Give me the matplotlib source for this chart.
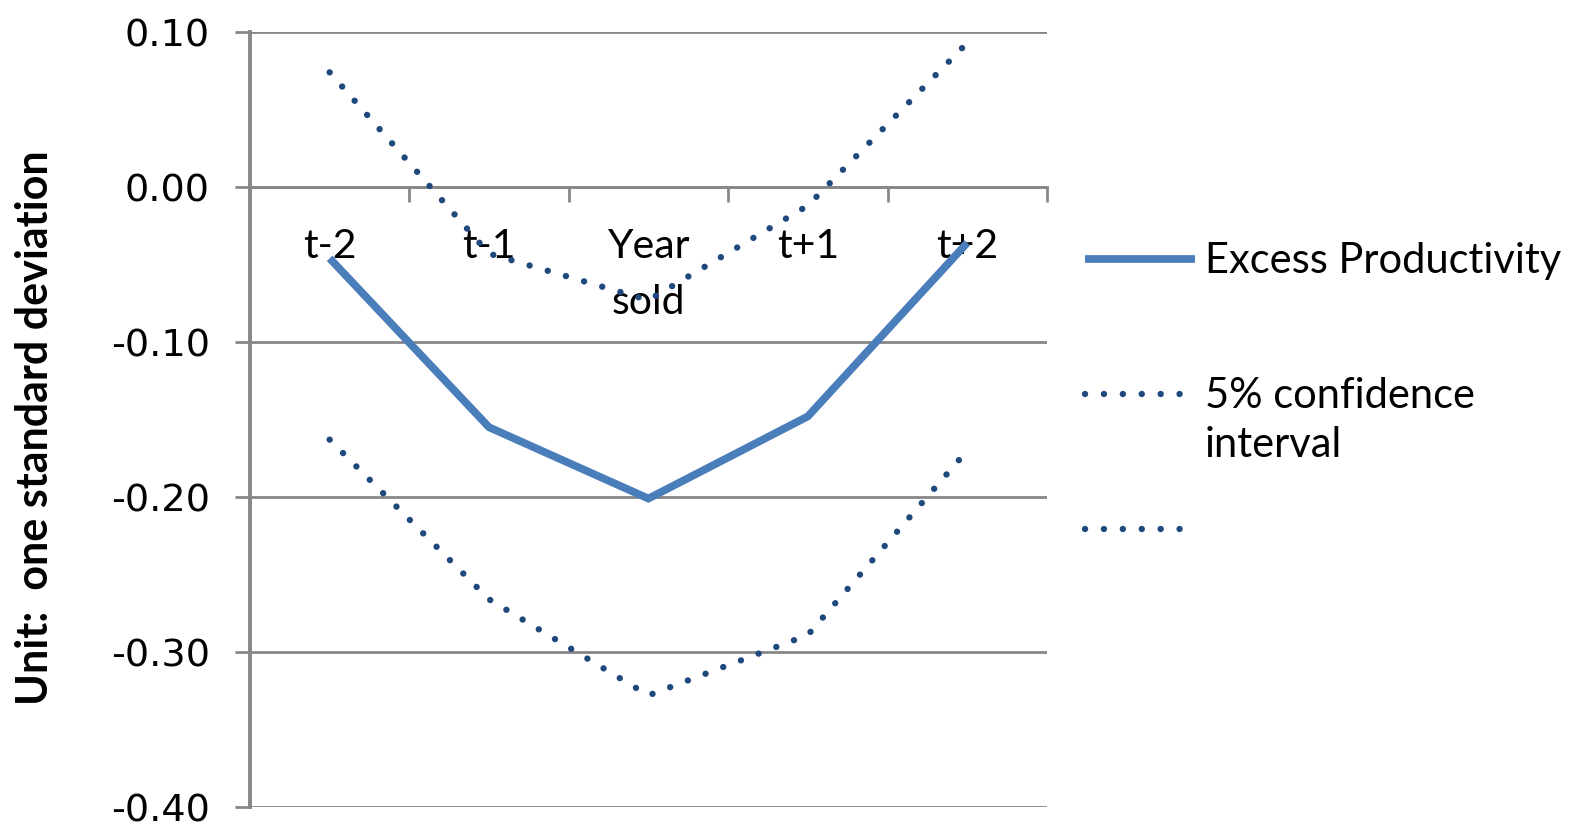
import matplotlib
matplotlib.use("Agg")
import matplotlib.pyplot as plt
from matplotlib.ticker import FixedLocator, NullFormatter, FixedFormatter

periods = ["t-2", "t-1", "Year\nsold", "t+1", "t+2"]
excess_productivity = [-0.046, -0.155, -0.201, -0.148, -0.036]
ci_upper = [0.074, -0.043, -0.073, -0.012, 0.093]
ci_lower = [-0.163, -0.266, -0.328, -0.289, -0.170]
y_ticks = [0.10, 0.00, -0.10, -0.20, -0.30, -0.40]
legend_labels = ["Excess Productivity\n ", "5% confidence\ninterval", " \n "]

text_font = ["Lato", "DejaVu Sans"]
grid_gray = "#878787"
line_blue = "#4a7ebb"
dot_blue = "#1f497d"

fig = plt.figure(figsize=(15.75, 8.25), dpi=100)
ax = fig.add_axes([0.1587, 0.0218, 0.506, 0.9394])

x = list(range(len(periods)))
h1, = ax.plot(x, excess_productivity, color=line_blue, lw=5.6,
              solid_joinstyle="miter", solid_capstyle="butt", zorder=3)
dot_style = dict(color=dot_blue, lw=4.6, dash_capstyle="round",
                 linestyle=(0, (0.01, 2.95)), zorder=3)
h2, = ax.plot(x, ci_upper, **dot_style)
h3, = ax.plot(x, ci_lower, **dot_style)

ax.set_xlim(-0.5, len(periods) - 0.5)
ax.set_ylim(-0.40, 0.10)

# horizontal gridlines
ax.set_yticks(y_ticks)
ax.set_yticklabels([f"{v:.2f}" for v in y_ticks])
ax.yaxis.grid(True, color=grid_gray, lw=2.0)
ax.set_axisbelow(True)
ax.tick_params(axis="y", which="major", length=11, width=2.0, color=grid_gray,
               pad=18, labelsize=27.5, labelcolor="black")
for lab in ax.get_yticklabels():
    lab.set_family("DejaVu Sans")

# category axis sits on the zero line
for side in ("top", "right"):
    ax.spines[side].set_visible(False)
ax.spines["left"].set_color(grid_gray)
ax.spines["left"].set_linewidth(2.8)
ax.spines["bottom"].set_position(("data", 0))
ax.spines["bottom"].set_color(grid_gray)
ax.spines["bottom"].set_linewidth(2.0)

bounds = [i + 0.5 for i in x]
ax.xaxis.set_major_locator(FixedLocator(bounds))
ax.xaxis.set_major_formatter(NullFormatter())
ax.xaxis.set_minor_locator(FixedLocator(x))
ax.xaxis.set_minor_formatter(FixedFormatter(periods))
ax.tick_params(axis="x", which="major", length=11, width=2.0, color=grid_gray, direction="out")
ax.tick_params(axis="x", which="minor", length=0, pad=29.5, labelsize=29.5, labelcolor="black")
for lab in ax.xaxis.get_minorticklabels():
    lab.set_family(text_font)
    lab.set_linespacing(1.62)

ax.set_ylabel("Unit:  one standard deviation", fontsize=31, fontweight="bold",
              family=text_font)
ax.yaxis.set_label_coords(-0.245, 0.49)

leg = fig.legend([h1, h2, h3], legend_labels, loc="upper left",
                 bbox_to_anchor=(1085 / 1575, 1 - 242 / 825), bbox_transform=fig.transFigure,
                 frameon=False, prop={"family": text_font, "size": 30},
                 handlelength=2.64, handleheight=1.1, handletextpad=0.24,
                 labelspacing=1.15, borderpad=0, borderaxespad=0)
# keep each handle level with the first line of its label
for column in leg._legend_handle_box.get_children():
    for row in column.get_children():
        row.align = "top"
for text in leg.get_texts():
    text.set_linespacing(1.35)

fig.savefig("out.png", dpi=100)
